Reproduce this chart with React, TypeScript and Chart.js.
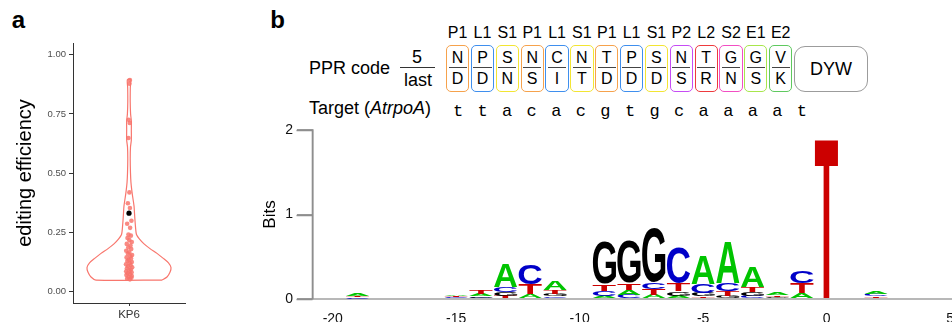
import React, { useEffect, useRef } from "react";
import { Chart, registerables } from "chart.js";
Chart.register(...registerables);

const SANS = '"Liberation Sans", Arial, Helvetica, sans-serif';
const MONO = '"Liberation Mono", "DejaVu Sans Mono", monospace';

// ---------- panel a: violin ----------
const violinCategories = ["KP6"];
const efficiencyValues = [
  0.05, 0.053, 0.057, 0.06, 0.064, 0.068, 0.072, 0.076, 0.08, 0.084,
  0.088, 0.092, 0.097, 0.101, 0.105, 0.11, 0.114, 0.119, 0.123, 0.128,
  0.133, 0.138, 0.143, 0.148, 0.153, 0.159, 0.165, 0.171, 0.178, 0.185,
  0.193, 0.2, 0.208, 0.216, 0.225, 0.235, 0.24, 0.268, 0.285, 0.298,
  0.352, 0.372, 0.418, 0.648, 0.712, 0.725, 0.878, 0.893,
];
const efficiencyJitter = [
  0.01, -0.02, 0.025, -0.005, 0.03, -0.028, 0.012, -0.015, 0.028, -0.03,
  0.005, 0.02, -0.022, 0.034, -0.01, 0.018, -0.032, 0.008, 0.03, -0.018,
  -0.004, 0.022, -0.026, 0.014, 0.033, -0.012, 0.002, -0.03, 0.024, -0.008,
  0.016, -0.024, 0.03, 0.004, -0.016, 0.02, -0.006, 0.012, -0.02, 0.026,
  0.01, -0.012, 0.004, -0.006, 0.008, -0.004, 0.004, 0.01,
];
const efficiencyMarker = 0.33;
const violinLevels = [
  0.047, 0.06, 0.08, 0.1, 0.12, 0.14, 0.16, 0.18, 0.2, 0.22,
  0.24, 0.27, 0.3, 0.33, 0.36, 0.39, 0.42, 0.46, 0.5, 0.56,
  0.61, 0.64, 0.68, 0.72, 0.75, 0.8, 0.86, 0.895,
];
const violinHalfWidths = [
  0.354, 0.407, 0.439, 0.45, 0.423, 0.364, 0.3, 0.225, 0.161, 0.113,
  0.08, 0.07, 0.064, 0.059, 0.054, 0.043, 0.032, 0.021, 0.016, 0.013,
  0.016, 0.025, 0.025, 0.025, 0.017, 0.013, 0.014, 0.017,
];
const efficiencyTicks = [0, 0.25, 0.5, 0.75, 1];

// ---------- panel b: PPR code ----------
const pprMotifs = ["P1", "L1", "S1", "P1", "L1", "S1", "P1", "L1", "S1", "P2", "L2", "S2", "E1", "E2"];
const pprFifth = ["N", "P", "S", "N", "C", "N", "T", "P", "S", "N", "T", "G", "G", "V"];
const pprLast = ["D", "D", "N", "S", "I", "T", "D", "D", "D", "S", "R", "N", "S", "K"];
const targetSeq = ["t", "t", "a", "c", "a", "c", "g", "t", "g", "c", "a", "a", "a", "a", "t"];
const motifColors: Record<string, string> = {
  P1: "#F6A24C",
  L1: "#3F8FEE",
  S1: "#F3E533",
  P2: "#C64CF4",
  L2: "#EE3A3E",
  S2: "#F24EC3",
  E1: "#A8E64C",
  E2: "#5FC95F",
};

// ---------- panel b: sequence logo ----------
const logoPositions = [-19, -15, -14, -13, -12, -11, -9, -8, -7, -6, -5, -4, -3, -2, -1, 0, 2, 3, 4];
const bitsA = [0.035, 0.02, 0.03, 0.28, 0.05, 0.1, 0.035, 0.06, 0.05, 0.04, 0.34, 0.49, 0.24, 0.03, 0.06, 0, 0.035, 0.006, 0.004];
const bitsC = [0.015, 0.01, 0.015, 0.055, 0.24, 0.03, 0.065, 0.05, 0.08, 0.42, 0.11, 0.09, 0.035, 0.008, 0.14, 0, 0.028, 0, 0];
const bitsG = [0.005, 0.008, 0.02, 0.045, 0.01, 0.035, 0.5, 0.49, 0.64, 0.05, 0.04, 0.035, 0.05, 0.015, 0.01, 0, 0.012, 0, 0];
const bitsT = [0.02, 0.012, 0.045, 0.04, 0.12, 0.04, 0.08, 0.08, 0.07, 0.09, 0.03, 0.06, 0.055, 0.02, 0.12, 1.89, 0.02, 0, 0];
const logoXTicks = [-20, -15, -10, -5, 0, 5];
const logoYTicks = [0, 1, 2];
const nucleotides = ["A", "C", "G", "T"];
const nucleotideColors: Record<string, string> = { A: "#00C400", C: "#0000C8", G: "#000000", T: "#CC0000" };

const bitsByNt: Record<string, number[]> = { A: bitsA, C: bitsC, G: bitsG, T: bitsT };

function buildLogoDatasets() {
  return [0, 1, 2, 3].map((rank) => {
    const data: any[] = [];
    const letters: (string | null)[] = [];
    logoPositions.forEach((pos, i) => {
      const sorted = nucleotides
        .map((n) => ({ n, h: bitsByNt[n][i] }))
        .sort((a, b) => a.h - b.h);
      let lo = 0;
      for (let k = 0; k < rank; k++) lo += sorted[k].h;
      const s = sorted[rank];
      data.push({ x: pos, y: [lo, lo + s.h] });
      letters.push(s.h > 0 ? s.n : null);
    });
    return {
      data,
      letters,
      backgroundColor: "rgba(0,0,0,0)",
      borderWidth: 0,
      grouped: false,
      categoryPercentage: 1,
      barPercentage: 0.94,
    } as any;
  });
}

const glyphCache: Record<string, { l: number; r: number; a: number; d: number }> = {};
const GLYPH_FONT = 'bold 200px "Liberation Sans", Arial, sans-serif';
function glyphBox(ctx: CanvasRenderingContext2D, letter: string) {
  if (!glyphCache[letter]) {
    ctx.save();
    ctx.font = GLYPH_FONT;
    const m = ctx.measureText(letter);
    ctx.restore();
    glyphCache[letter] = {
      l: m.actualBoundingBoxLeft,
      r: m.actualBoundingBoxRight,
      a: m.actualBoundingBoxAscent,
      d: m.actualBoundingBoxDescent,
    };
  }
  return glyphCache[letter];
}

const logoGlyphPlugin = {
  id: "logoGlyphs",
  afterDatasetsDraw(chart: any) {
    const ctx: CanvasRenderingContext2D = chart.ctx;
    // left axis line and outward ticks, placed with the y scale
    const ys = chart.scales.y;
    const ax = Math.round(chart.chartArea.left) - 0.5;
    ctx.save();
    ctx.setLineDash([]);
    ctx.globalAlpha = 1;
    ctx.strokeStyle = "#8e8e8e";
    ctx.lineWidth = 1.6;
    ctx.beginPath();
    ctx.moveTo(ax, ys.getPixelForValue(logoYTicks[logoYTicks.length - 1]));
    ctx.lineTo(ax, ys.getPixelForValue(logoYTicks[0]));
    logoYTicks.forEach((v) => {
      const py = Math.round(ys.getPixelForValue(v)) + 0.5;
      ctx.moveTo(ax - 16, py);
      ctx.lineTo(ax, py);
    });
    ctx.stroke();
    ctx.restore();

    chart.data.datasets.forEach((ds: any, di: number) => {
      const meta = chart.getDatasetMeta(di);
      meta.data.forEach((el: any, i: number) => {
        const letter = ds.letters[i];
        if (!letter) return;
        const { x, y, base, width } = el.getProps(["x", "y", "base", "width"], true);
        const top = Math.min(y, base);
        const h = Math.abs(base - y);
        if (h < 0.15) return;
        const g = glyphBox(ctx, letter);
        ctx.save();
        ctx.translate(x - width / 2, top);
        ctx.scale(width / (g.l + g.r), h / (g.a + g.d));
        ctx.font = GLYPH_FONT;
        ctx.textAlign = "left";
        ctx.textBaseline = "alphabetic";
        ctx.fillStyle = nucleotideColors[letter];
        ctx.fillText(letter, g.l, g.a);
        ctx.restore();
      });
    });
  },
};

function Txt(props: {
  x: number;
  y: number;
  size: number;
  children: any;
  align?: "center" | "left" | "right";
  bold?: boolean;
  family?: string;
  color?: string;
}) {
  const { x, y, size, children, align = "center", bold = false, family = SANS, color = "#000" } = props;
  const tx = align === "center" ? "-50%" : align === "right" ? "-100%" : "0";
  return (
    <div
      style={{
        position: "absolute",
        left: x,
        top: y,
        transform: `translate(${tx},-50%)`,
        fontSize: size,
        lineHeight: 1,
        fontFamily: family,
        fontWeight: bold ? 700 : 400,
        color,
        whiteSpace: "nowrap",
      }}
    >
      {children}
    </div>
  );
}

export default function App() {
  const aRef = useRef<HTMLCanvasElement>(null);
  const bRef = useRef<HTMLCanvasElement>(null);

  useEffect(() => {
    const right = violinLevels.map((y, i) => ({ x: 1 + violinHalfWidths[i], y }));
    const left = violinLevels.map((y, i) => ({ x: 1 - violinHalfWidths[i], y })).reverse();
    const outline = [...right, ...left, right[0]];

    const chartA = new Chart(aRef.current as HTMLCanvasElement, {
      type: "scatter",
      data: {
        datasets: [
          {
            data: [{ x: 1, y: efficiencyMarker }],
            pointRadius: 2.6,
            backgroundColor: "#000",
            borderWidth: 0,
          },
          {
            data: efficiencyValues.map((v, i) => ({ x: 1 + (efficiencyJitter[i] ?? 0), y: v })),
            pointRadius: 2.3,
            backgroundColor: "rgba(248,118,109,0.85)",
            borderWidth: 0,
          },
          {
            data: outline,
            showLine: true,
            borderColor: "#F8766D",
            borderWidth: 1.2,
            pointRadius: 0,
            fill: false,
            tension: 0.25,
          } as any,
        ],
      },
      options: {
        responsive: false,
        animation: false,
        events: [],
        layout: { padding: { top: 43, right: 15, left: 0, bottom: 0 } },
        plugins: { legend: { display: false }, tooltip: { enabled: false } },
        scales: {
          x: {
            type: "linear",
            min: 0.4,
            max: 1.6,
            offset: false,
            afterBuildTicks: (s: any) => {
              s.ticks = [{ value: 1 }];
            },
            afterFit: (s: any) => {
              s.height = 19;
            },
            ticks: {
              callback: () => violinCategories[0],
              font: { family: SANS, size: 11.5 },
              color: "#333",
              padding: 2,
            },
            grid: { drawOnChartArea: false, tickLength: 3, color: "#333" },
            border: { color: "#333", width: 1 },
          },
          y: {
            min: -0.05,
            max: 1.05,
            afterBuildTicks: (s: any) => {
              s.ticks = efficiencyTicks.map((v) => ({ value: v }));
            },
            afterFit: (s: any) => {
              s.width = 73;
            },
            ticks: {
              callback: (v: any) => Number(v).toFixed(2),
              font: { family: SANS, size: 9.5 },
              color: "#4D4D4D",
              padding: 3,
            },
            grid: { drawOnChartArea: false, tickLength: 4, color: "#333" },
            border: { color: "#333", width: 1 },
            title: {
              display: true,
              text: "editing efficiency",
              font: { family: SANS, size: 20 },
              color: "#000",
              padding: { top: 13, bottom: 0 },
            },
          },
        },
      } as any,
    });

    const chartB = new Chart(bRef.current as HTMLCanvasElement, {
      type: "bar",
      data: { datasets: buildLogoDatasets() },
      plugins: [logoGlyphPlugin],
      options: {
        responsive: false,
        animation: false,
        events: [],
        layout: { padding: { top: 20, right: 15, left: 0, bottom: 0 } },
        plugins: { legend: { display: false }, tooltip: { enabled: false } },
        scales: {
          x: {
            type: "linear",
            min: -20.8,
            max: 5.2,
            offset: false,
            afterBuildTicks: (s: any) => {
              s.ticks = logoXTicks.map((v) => ({ value: v }));
            },
            afterFit: (s: any) => {
              s.height = 23;
            },
            ticks: {
              callback: (v: any) => String(v),
              font: { family: SANS, size: 14 },
              color: "#111",
              padding: 4,
            },
            grid: { display: false },
            border: { color: "#b8b8b8", width: 2 },
          },
          y: {
            min: 0,
            max: 2,
            afterBuildTicks: (s: any) => {
              s.ticks = logoYTicks.map((v) => ({ value: v }));
            },
            afterFit: (s: any) => {
              s.width = 63;
            },
            ticks: {
              callback: (v: any) => String(v),
              font: { family: SANS, size: 14 },
              color: "#111",
              padding: 4,
            },
            grid: { drawOnChartArea: false, tickLength: 16, color: "#9a9a9a", lineWidth: 1.5 },
            border: { color: "#9a9a9a", width: 1.5 },
            title: {
              display: true,
              text: "Bits",
              font: { family: SANS, size: 17 },
              color: "#000",
              padding: { top: 10, bottom: 0 },
            },
          },
        },
      } as any,
    });

    return () => {
      chartA.destroy();
      chartB.destroy();
    };
  }, []);

  const boxLeft0 = 446;
  const boxPitch = 24.85;
  const boxW = 23.3;
  const targetLeft0 = 458;
  const targetPitch = 24.57;

  return (
    <div
      style={{
        position: "absolute",
        left: 0,
        top: 0,
        width: 952,
        height: 322,
        overflow: "hidden",
        background: "#fff",
        fontFamily: SANS,
      }}
    >
      <Txt x={18.5} y={20} size={24} bold>a</Txt>
      <Txt x={277.5} y={20} size={24} bold>b</Txt>

      {pprMotifs.map((m, i) => {
        const left = boxLeft0 + i * boxPitch;
        const cx = left + boxW / 2;
        return (
          <React.Fragment key={i}>
            <Txt x={cx} y={33} size={16}>{m}</Txt>
            <div
              style={{
                position: "absolute",
                left,
                top: 45,
                width: boxW,
                height: 47,
                boxSizing: "border-box",
                border: `1.5px solid ${motifColors[m]}`,
                borderRadius: 5,
              }}
            />
            <div style={{ position: "absolute", left: left + 2.5, top: 67.2, width: boxW - 5, height: 1, background: "#444" }} />
            <Txt x={cx} y={57.5} size={16}>{pprFifth[i]}</Txt>
            <Txt x={cx} y={79.3} size={16}>{pprLast[i]}</Txt>
          </React.Fragment>
        );
      })}

      <div
        style={{
          position: "absolute",
          left: 794,
          top: 46,
          width: 74,
          height: 46,
          boxSizing: "border-box",
          border: "1.5px solid #9c9c9c",
          borderRadius: 11,
        }}
      />
      <Txt x={831} y={69} size={18}>DYW</Txt>

      <Txt x={309} y={67.5} size={18} align="left">PPR code</Txt>
      <Txt x={417} y={57} size={18}>5</Txt>
      <div style={{ position: "absolute", left: 400, top: 67.2, width: 35, height: 1, background: "#333" }} />
      <Txt x={418} y={79.5} size={18}>last</Txt>

      <Txt x={309} y={107.5} size={18} align="left">
        Target (<i>AtrpoA</i>)
      </Txt>
      {targetSeq.map((t, j) => (
        <Txt key={j} x={targetLeft0 + j * targetPitch} y={110.5} size={17} family={MONO}>
          {t}
        </Txt>
      ))}

      <canvas
        ref={aRef}
        width={200}
        height={322}
        style={{ position: "absolute", left: 0, top: 0, width: 200, height: 322, zIndex: 2 }}
      />
      <canvas
        ref={bRef}
        width={720}
        height={212}
        style={{ position: "absolute", left: 250, top: 110, width: 720, height: 212, zIndex: 2 }}
      />
    </div>
  );
}
